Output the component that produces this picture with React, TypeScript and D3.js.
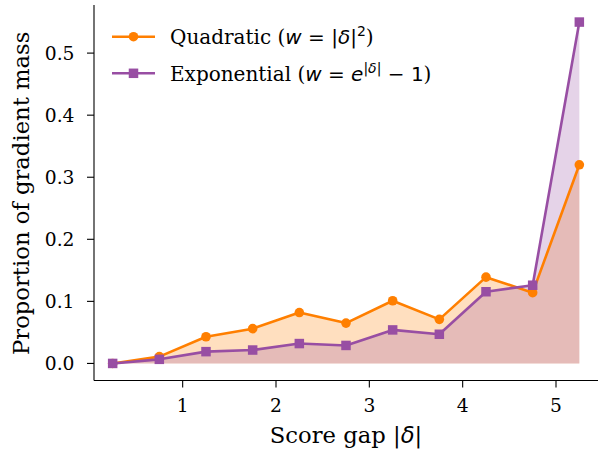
import React from "react";
import * as d3 from "d3";

const xs = [0.25, 0.75, 1.25, 1.75, 2.25, 2.75, 3.25, 3.75, 4.25, 4.75, 5.25];
const quadratic = [0.0, 0.011, 0.043, 0.056, 0.082, 0.065, 0.101, 0.071, 0.139, 0.114, 0.32];
const exponential = [0.0, 0.0066, 0.019, 0.0216, 0.032, 0.029, 0.054, 0.047, 0.1155, 0.126, 0.55];
const xTicks = [1, 2, 3, 4, 5];
const yTicks = [0.0, 0.1, 0.2, 0.3, 0.4, 0.5];

const ORANGE = "#ff7f00";
const PURPLE = "#984ea3";
const SERIF = "'DejaVu Serif', serif";
const MATH = "'DejaVu Sans', sans-serif";

export default function App() {
  const W = 602, H = 452;
  const left = 94, right = 598, top = 5, bottom = 380.5;
  const x = d3.scaleLinear().domain([0.05, 5.45]).range([left, right]);
  const y = d3.scaleLinear().domain([-0.0275, 0.5775]).range([bottom, top]);

  const pts = (vals: number[]) => xs.map((xv, i) => [xv, vals[i]] as [number, number]);
  const line = d3.line<[number, number]>().x(d => x(d[0])).y(d => y(d[1]));
  const area = d3.area<[number, number]>().x(d => x(d[0])).y0(y(0)).y1(d => y(d[1]));

  const q = pts(quadratic);
  const e = pts(exponential);
  const sq = 9.5;
  const r = 4.8;
  const lw = 2.6;
  const TICK_FS = 18.7;
  const LABEL_FS = 22.7;
  const LEG_FS = 20;

  return (
    <svg width={W} height={H} style={{ position: "absolute", left: 0, top: 0 }}>
      <rect width={W} height={H} fill="white" />
      <path d={area(q) || ""} fill={ORANGE} fillOpacity={0.25} />
      <path d={area(e) || ""} fill={PURPLE} fillOpacity={0.25} />
      <path d={line(q) || ""} fill="none" stroke={ORANGE} strokeWidth={lw} strokeLinejoin="round" />
      {q.map((d, i) => (
        <circle key={"q" + i} cx={x(d[0])} cy={y(d[1])} r={r} fill={ORANGE} />
      ))}
      <path d={line(e) || ""} fill="none" stroke={PURPLE} strokeWidth={lw} strokeLinejoin="round" />
      {e.map((d, i) => (
        <rect key={"e" + i} x={x(d[0]) - sq / 2} y={y(d[1]) - sq / 2} width={sq} height={sq} fill={PURPLE} />
      ))}

      {/* axes */}
      <line x1={left} x2={left} y1={top} y2={bottom} stroke="#000" strokeWidth={1.1} />
      <line x1={left} x2={right} y1={bottom} y2={bottom} stroke="#000" strokeWidth={1.1} />
      {yTicks.map(t => (
        <g key={"yt" + t}>
          <line x1={left - 7} x2={left} y1={y(t)} y2={y(t)} stroke="#000" strokeWidth={1.1} />
          <text x={74.5} y={y(t)} dy="0.36em" textAnchor="end" fontFamily={SERIF} fontSize={TICK_FS} fill="#000">
            {t.toFixed(1)}
          </text>
        </g>
      ))}
      {xTicks.map(t => (
        <g key={"xt" + t}>
          <line x1={x(t)} x2={x(t)} y1={bottom} y2={bottom + 7} stroke="#000" strokeWidth={1.1} />
          <text x={x(t)} y={411.6} textAnchor="middle" fontFamily={SERIF} fontSize={TICK_FS} fill="#000">
            {t}
          </text>
        </g>
      ))}
      <text x={(left + right) / 2} y={442.5} textAnchor="middle" fontFamily={SERIF} fontSize={LABEL_FS} fill="#000">
        Score gap |<tspan fontFamily={MATH} fontStyle="italic">δ</tspan>|
      </text>
      <text transform={`translate(29, ${193.3}) rotate(-90)`} textAnchor="middle" fontFamily={SERIF} fontSize={LABEL_FS} fill="#000">
        Proportion of gradient mass
      </text>

      {/* legend */}
      <line x1={112} x2={155} y1={36.7} y2={36.7} stroke={ORANGE} strokeWidth={lw} />
      <circle cx={133.5} cy={36.7} r={r} fill={ORANGE} />
      <text x={170} y={36.7} dy="0.36em" fontFamily={SERIF} fontSize={LEG_FS} fill="#000">
        Quadratic (<tspan fontFamily={MATH} fontStyle="italic">w</tspan>
        <tspan fontFamily={MATH}> = |</tspan>
        <tspan fontFamily={MATH} fontStyle="italic">δ</tspan>
        <tspan fontFamily={MATH}>|</tspan>
        <tspan fontFamily={MATH} fontSize={14} dy="-8">2</tspan>
        <tspan dy="8">)</tspan>
      </text>
      <line x1={112} x2={155} y1={73.3} y2={73.3} stroke={PURPLE} strokeWidth={lw} />
      <rect x={133.5 - sq / 2} y={73.3 - sq / 2} width={sq} height={sq} fill={PURPLE} />
      <text x={170} y={73.3} dy="0.36em" fontFamily={SERIF} fontSize={LEG_FS} fill="#000">
        Exponential (<tspan fontFamily={MATH} fontStyle="italic">w</tspan>
        <tspan fontFamily={MATH}> = </tspan>
        <tspan fontFamily={MATH} fontStyle="italic">e</tspan>
        <tspan fontFamily={MATH} fontSize={14} dy="-8">|</tspan>
        <tspan fontFamily={MATH} fontSize={14} fontStyle="italic">δ</tspan>
        <tspan fontFamily={MATH} fontSize={14}>|</tspan>
        <tspan fontFamily={MATH} dy="8"> − 1</tspan>
        <tspan>)</tspan>
      </text>
    </svg>
  );
}
